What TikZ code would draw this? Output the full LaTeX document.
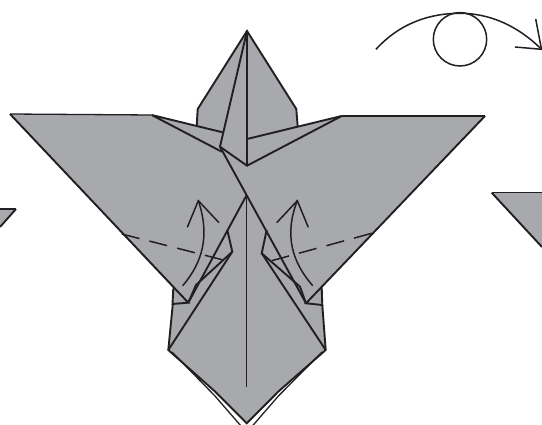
\documentclass[tikz,border=0pt]{standalone}
\definecolor{paper}{HTML}{A7A9AC}
\definecolor{ink}{HTML}{231F20}
\tikzset{
  x=1pt,y=-1pt,
  thick line/.style={draw=ink,line width=1.9pt,line join=miter,miter limit=3},
  thin line/.style={draw=ink,line width=1.3pt},
  fold/.style={draw=ink,line width=1.5pt,dash pattern=on 18.3pt off 10.3pt},
  arrowline/.style={draw=ink,line width=1.5pt},
}
\begin{document}
\begin{tikzpicture}
\useasboundingbox (0,0) rectangle (542,425);
\begin{scope}
\clip (0,0) rectangle (542,425);
% side pieces
\fill[paper] (0,209) -- (16,209) -- (0,227) -- cycle;
\draw[thin line] (0,209) -- (16,209);
\draw[thick line] (16,209) -- (0,227);
\fill[paper] (491.7,192.7) -- (542,192.7) -- (542,247) -- cycle;
\draw[thin line] (491.7,192.7) -- (542,192.7);
\draw[thick line] (491.7,192.7) -- (542,247);
% body
\fill[paper] (247,31) -- (296.3,109) -- (297.7,126.7) -- (341.7,116) -- (485,116) -- (321.7,287.3) -- (322.3,305) -- (325.7,350) -- (278.4,391.5) -- (246.7,423.3) -- (215,391.5) -- (168.3,350) -- (173,304) -- (173.3,288.3) -- (10,114) -- (151.7,115) -- (196.7,126) -- (197.7,109) -- cycle;
% outline
\draw[thick line] (196.7,126) -- (197.7,109) -- (247,31) -- (296.3,109) -- (297.7,126.7);
\draw[thin line] (151.7,115) -- (10,114);
\draw[thin line] (341.7,116) -- (485,116);
\draw[thick line] (10,114) -- (188.3,302.7) -- (172.5,304) -- (173.3,288.3);
\draw[thick line] (485,116) -- (306,303.3) -- (322.3,305) -- (321.7,287.3);
\draw[thick line] (172.8,304) -- (168.3,350) -- (215,391.5) -- (246.7,423.3) -- (278.4,391.5) -- (325.7,350) -- (322.3,305);
\draw[thin line] (172,352) -- (215,396) -- (241,426);
\draw[thin line] (322,352) -- (278.4,396) -- (252.4,426);
% head
\draw[thick line] (247,31) -- (247,165.7);
\draw[thick line] (247,31) -- (220,146.7) -- (247,165.7) -- (341.7,116);
\draw[thick line] (247,139) -- (341.7,116);
\draw[thick line] (222.7,132.3) -- (196.7,126) -- (151.7,115) -- (221.7,151.7);
% central creases
\draw[thick line] (220,146.7) -- (306,303.3);
\draw[thick line] (246.7,195) -- (188.3,302.7);
\draw[thin line] (246.7,195) -- (246.7,387.3);
% lower flaps
\draw[thick line] (227.3,230) -- (232.3,251.7) -- (168.3,350);
\draw[thick line] (232.3,251.7) -- (196,285) -- (188.3,302.7);
\draw[thick line] (266.7,230) -- (261.7,253.3) -- (325.7,350);
\draw[thick line] (261.7,253.3) -- (300,286.7) -- (306,303.3);
% fold lines
\draw[fold] (121.7,234) -- (223.3,260);
\draw[fold] (371.7,233.3) -- (271.7,260.7);
% fold arrows
\draw[arrowline] (182.7,285.7) .. controls (203,262) and (210,235) .. (198.3,200.7);
\draw[arrowline] (187.3,227.3) -- (198.3,200.7) -- (219,222.7);
\draw[arrowline] (312.7,285.7) .. controls (292,262) and (284,235) .. (297.3,200.7);
\draw[arrowline] (276.7,222.7) -- (297.3,200.7) -- (308.3,227.3);
% rotate symbol
\draw[arrowline] (460,39.3) circle (26.7);
\draw[arrowline] (376,49.3) .. controls (400,23) and (430,13.3) .. (460,13.3) .. controls (490,13.3) and (518,26) .. (541.5,49.3);
\draw[arrowline] (515,47) -- (541.5,49.3) -- (535.7,19);
\end{scope}
\end{tikzpicture}
\end{document}
